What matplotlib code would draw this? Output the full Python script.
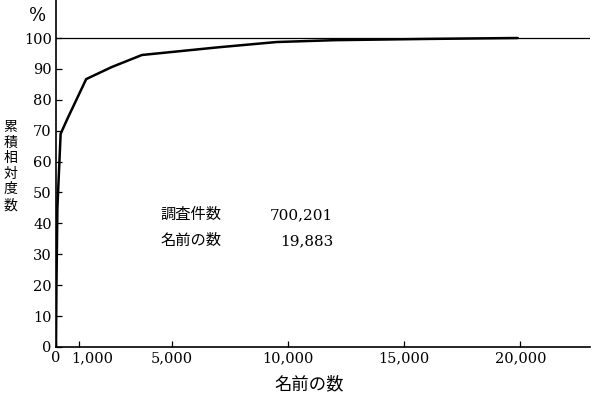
import matplotlib
matplotlib.use("Agg")
import matplotlib.pyplot as plt
import matplotlib.transforms as mtransforms

plt.rcParams['font.family'] = ['DejaVu Serif', 'Noto Sans CJK JP']

# cumulative relative frequency of names
n_names = [0, 20, 60, 200, 500, 1300, 2400, 3700, 7000, 9500, 12000, 16000, 19883]
cum_pct = [0, 20, 45, 69, 74, 86.7, 90.6, 94.5, 97.0, 98.7, 99.3, 99.7, 100]

xticks = [0, 1000, 5000, 10000, 15000, 20000]
xtick_labels = ["0", "1,000", "5,000", "10,000", "15,000", "20,000"]
yticks = list(range(0, 101, 10))

survey_label = ["調査件数", "名前の数"]
survey_value = ["700,201", "19,883"]

fig = plt.figure(figsize=(6.04, 4.15), dpi=100)
ax = fig.add_axes([0.0927, 0.1639, 0.8843, 0.8361])

ax.plot(n_names, cum_pct, color='black', linewidth=1.8, solid_capstyle='round')
ax.axhline(100, color='black', linewidth=0.9)

ax.set_xlim(0, 23000)
ax.set_ylim(0, 112.3)
ax.set_xticks(xticks)
ax.set_xticklabels(xtick_labels)
ax.set_yticks(yticks)

for s in ['top', 'right']:
    ax.spines[s].set_visible(False)
for s in ['left', 'bottom']:
    ax.spines[s].set_linewidth(1.2)
ax.tick_params(axis='both', direction='in', length=4, width=0.9, labelsize=10.5, pad=3)

# the "1,000" label sits right of its tick so it clears the "0"
lbl = ax.get_xticklabels()[1]
lbl.set_horizontalalignment('left')
lbl.set_transform(lbl.get_transform() +
                  mtransforms.ScaledTranslation(-8 / 100, 0, fig.dpi_scale_trans))

fig.text(0.512, 0.072, "名前の数", fontsize=12.5, ha='center', va='center')

fig.text(0.017, 0.60, "累\n積\n相\n対\n度\n数", fontsize=10, ha='center', va='center',
         linespacing=1.15)
fig.text(0.062, 0.962, "%", fontsize=13, ha='center', va='center')

for i, (lab, val) in enumerate(zip(survey_label, survey_value)):
    y = 42.7 - 8.4 * i
    ax.text(4500, y, lab, fontsize=11, va='center')
    ax.text(11950, y, val, fontsize=11, va='center', ha='right')

fig.savefig("out.png", dpi=100)
